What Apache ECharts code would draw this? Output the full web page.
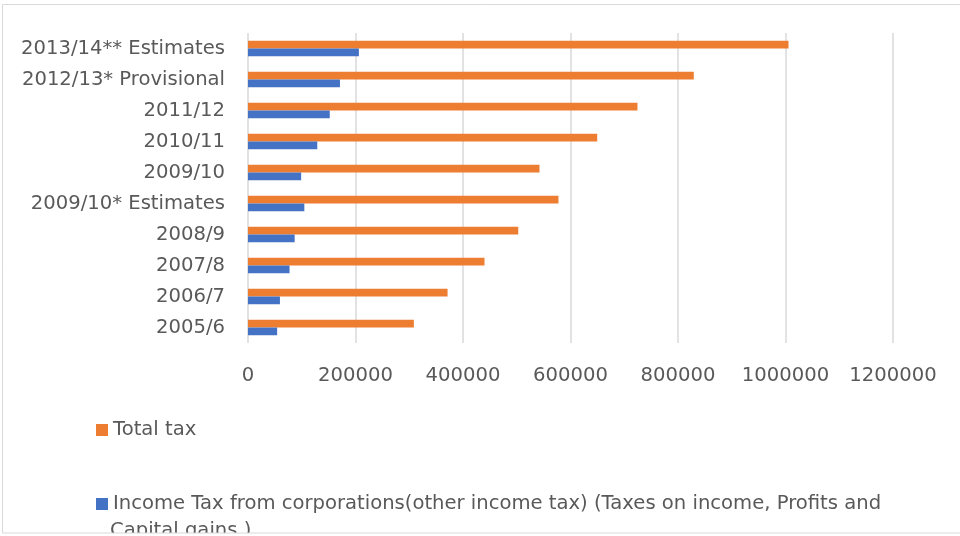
<!DOCTYPE html>
<html><head><meta charset="utf-8">
<script src="https://cdn.jsdelivr.net/npm/echarts@6/dist/echarts.min.js"></script>
<style>html,body{margin:0;padding:0;background:#fff}#c{width:960px;height:536px}</style>
</head><body><div id="c"></div>
<script>
const categories = ['2005/6','2006/7','2007/8','2008/9','2009/10* Estimates','2009/10','2010/11','2011/12','2012/13* Provisional','2013/14** Estimates'];
const totalTax = [308600,371300,440000,502800,577600,542300,649700,724600,829400,1005600];
const corpIncomeTax = [54200,59400,77300,86800,104800,98900,128900,152100,171100,206300];
const xTicks = [0,200000,400000,600000,800000,1000000,1200000];
const seriesNames = ['Total tax','Income Tax from corporations(other income tax) (Taxes on income, Profits and Capital gains )'];

const FONT = 'DejaVu Sans';
const FS = 19.6;
const chart = echarts.init(document.getElementById('c'), null, {renderer:'canvas'});
chart.setOption({
  animation:false,
  backgroundColor:'#fff',
  textStyle:{fontFamily:FONT},
  graphic:[
    {type:'text', left:110, top:521, z:10, style:{text:'Capital gains )', fill:'#595959', font:FS+'px '+FONT}},
    {type:'rect', shape:{x:0,y:533,width:960,height:10}, z:11, style:{fill:'#fff'}, silent:true},
    {type:'rect', shape:{x:2.5,y:4.5,width:1000,height:528.5}, z:12, style:{fill:'none', stroke:'#d9d9d9', lineWidth:1}, silent:true}
  ],
  grid:{left:248, right:67, top:33, bottom:193, containLabel:false},
  xAxis:{type:'value', min:xTicks[0], max:xTicks[xTicks.length-1], interval:xTicks[1]-xTicks[0],
    axisLine:{show:false}, axisTick:{show:false},
    axisLabel:{color:'#595959', fontSize:FS, margin:23, fontFamily:FONT, formatter:v=>String(v)},
    splitLine:{show:true, lineStyle:{color:'#d9d9d9', width:1.5}}},
  yAxis:{type:'category', data:categories,
    axisLine:{show:false}, axisTick:{show:false},
    axisLabel:{color:'#595959', fontSize:FS, margin:23, fontFamily:FONT}},
  legend:[
    {data:[seriesNames[0]], orient:'vertical', left:91, top:415, itemWidth:12, itemHeight:12, icon:'rect', itemGap:10,
     textStyle:{color:'#595959', fontSize:FS, fontFamily:FONT}},
    {data:[seriesNames[1]], orient:'vertical', left:91, top:489, itemWidth:12, itemHeight:12, icon:'rect',
     formatter: n => 'Income Tax from corporations(other income tax) (Taxes on income, Profits and',
     textStyle:{color:'#595959', fontSize:FS, fontFamily:FONT}}
  ],
  series:[
    {name:seriesNames[0], type:'bar', data:totalTax, itemStyle:{color:'#ED7D31'}, barGap:'0%', barCategoryGap:'50%'},
    {name:seriesNames[1], type:'bar', data:corpIncomeTax, itemStyle:{color:'#4472C4'}, barGap:'0%', barCategoryGap:'50%'}
  ]
});
</script></body></html>
